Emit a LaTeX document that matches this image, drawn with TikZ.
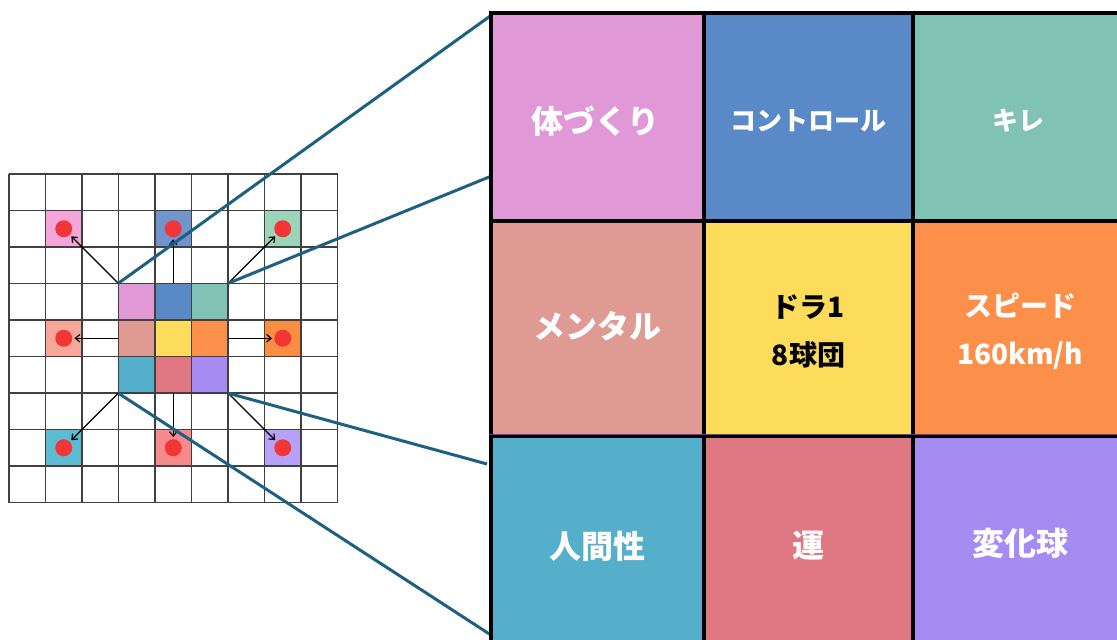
\documentclass[tikz,border=0pt]{standalone}
\usepackage{fontspec}
\newfontfamily\jp{Noto Sans CJK JP}
\usetikzlibrary{arrows.meta,calc}
\definecolor{cPink}{HTML}{E198D6}
\definecolor{cBlue}{HTML}{5A89C8}
\definecolor{cGreen}{HTML}{80C2B3}
\definecolor{cSalmon}{HTML}{E09A94}
\definecolor{cYellow}{HTML}{FDDC5B}
\definecolor{cOrange}{HTML}{FC904B}
\definecolor{cTeal}{HTML}{56AFCA}
\definecolor{cRed}{HTML}{DF7883}
\definecolor{cPurple}{HTML}{A68BF2}
\definecolor{oPink}{HTML}{F4A6DC}
\definecolor{oBlue}{HTML}{7094CC}
\definecolor{oGreen}{HTML}{9BD4B8}
\definecolor{oSalmon}{HTML}{F7A797}
\definecolor{oOrange}{HTML}{F98E40}
\definecolor{oTeal}{HTML}{5DBCD1}
\definecolor{oRed}{HTML}{F78A8A}
\definecolor{oPurple}{HTML}{B7A0F7}
\definecolor{dotred}{HTML}{F23535}
\definecolor{zblue}{HTML}{1D6082}
\definecolor{rowline}{HTML}{6A3CA8}
\begin{document}
\begin{tikzpicture}[x=1pt,y=-1pt,
  gridline/.style={draw=black!75,line width=1.1pt},
  ocell/.style={minimum size=36.5pt,inner sep=0pt,draw=none},
  dot/.style={circle,fill=dotred,minimum size=17pt,inner sep=0pt},
  arr/.style={-{Straight Barb[length=4.5pt,width=7.5pt]},line width=1.2pt,shorten >=2pt},
  zoomline/.style={draw=zblue,line width=3pt},
  bigcell/.style={draw=black,line width=3.5pt,inner sep=0pt},
  celltxt/.style={text=white,align=center,inner sep=0pt,font=\jp\bfseries\fontsize{32}{40}\selectfont},
  smalltxt/.style={font=\jp\bfseries\fontsize{26}{32}\selectfont},
  twoline/.style={font=\jp\bfseries\fontsize{28}{48}\selectfont},
]
\useasboundingbox (0,0) rectangle (1117,640);
\fill[white] (0,0) rectangle (1117,640);

% small overview grid
\begin{scope}[shift={(9pt,-174pt)},x=36.5pt,y=-36.5pt]
  \node[ocell,fill=oPink]   (onw) at (1.5,1.5) {};
  \node[ocell,fill=oBlue]   (on)  at (4.5,1.5) {};
  \node[ocell,fill=oGreen]  (one) at (7.5,1.5) {};
  \node[ocell,fill=oSalmon] (ow)  at (1.5,4.5) {};
  \node[ocell,fill=oOrange] (oe)  at (7.5,4.5) {};
  \node[ocell,fill=oTeal]   (osw) at (1.5,7.5) {};
  \node[ocell,fill=oRed]    (os)  at (4.5,7.5) {};
  \node[ocell,fill=oPurple] (ose) at (7.5,7.5) {};
  \fill[cPink]   (3,3) rectangle (4,4);
  \fill[cBlue]   (4,3) rectangle (5,4);
  \fill[cGreen]  (5,3) rectangle (6,4);
  \fill[cSalmon] (3,4) rectangle (4,5);
  \fill[cYellow] (4,4) rectangle (5,5);
  \fill[cOrange] (5,4) rectangle (6,5);
  \fill[cTeal]   (3,5) rectangle (4,6);
  \fill[cRed]    (4,5) rectangle (5,6);
  \fill[cPurple] (5,5) rectangle (6,6);
  \node[minimum size=109.5pt,inner sep=0pt] (core) at (4.5,4.5) {};
  \foreach \i in {0,...,9} {
    \draw[gridline] (\i,0) -- (\i,9);
    \draw[gridline] (0,\i) -- (9,\i);
  }
  \node[dot] (dnw) at (onw) {};
  \node[dot] (dn)  at (on)  {};
  \node[dot] (dne) at (one) {};
  \node[dot] (dw)  at (ow)  {};
  \node[dot] (de)  at (oe)  {};
  \node[dot] (dsw) at (osw) {};
  \node[dot] (ds)  at (os)  {};
  \node[dot] (dse) at (ose) {};
  \draw[arr] (core.north west) -- (dnw);
  \draw[arr] (core.north) -- (dn);
  \draw[arr] (core.north east) -- (dne);
  \draw[arr] (core.west) -- (dw);
  \draw[arr] (core.east) -- (de);
  \draw[arr] (core.south west) -- (dsw);
  \draw[arr] (core.south) -- (ds);
  \draw[arr] (core.south east) -- (dse);
\end{scope}

% zoom lines
\coordinate (zA) at (493,14);
\coordinate (zB) at (494,175);
\coordinate (zC) at (487,464);
\coordinate (zD) at (494,637);
\draw[zoomline] (core.north west) -- (zA);
\draw[zoomline] (core.north east) -- (zB);
\draw[zoomline] (core.south east) -- (zC);
\draw[zoomline] (core.south west) -- (zD);

% big grid
\node[bigcell,fill=cPink,minimum width=213pt,minimum height=208pt]   (b11) at (597.5,117) {};
\node[bigcell,fill=cBlue,minimum width=209pt,minimum height=208pt]   (b12) at (808.5,117) {};
\node[bigcell,fill=cGreen,minimum width=210pt,minimum height=208pt]  (b13) at (1018,117) {};
\node[bigcell,fill=cSalmon,minimum width=213pt,minimum height=215pt] (b21) at (597.5,328.5) {};
\node[bigcell,fill=cYellow,minimum width=209pt,minimum height=215pt] (b22) at (808.5,328.5) {};
\node[bigcell,fill=cOrange,minimum width=210pt,minimum height=215pt] (b23) at (1018,328.5) {};
\node[bigcell,fill=cTeal,minimum width=213pt,minimum height=212pt]   (b31) at (597.5,542) {};
\node[bigcell,fill=cRed,minimum width=209pt,minimum height=212pt]    (b32) at (808.5,542) {};
\node[bigcell,fill=cPurple,minimum width=210pt,minimum height=212pt] (b33) at (1018,542) {};
\draw[rowline,line width=1.5pt] (b31.north west) -- (b33.north east);

% labels
\node[celltxt] (t11) at ($(b11.center)+(-2,4)$) {体づくり};
\node[celltxt,smalltxt] (t12) at ($(b12.center)+(0,4)$) {コントロール};
\node[celltxt,smalltxt] (t13) at ($(b13.center)+(0,4)$) {キレ};
\node[celltxt] (t21) at ($(b21.center)+(0,-2)$) {メンタル};
\node[celltxt,twoline,text=black] (t22) at ($(b22.center)+(0,3)$) {ドラ1\\8球団};
\node[celltxt,twoline] (t23) at ($(b23.center)+(2,3)$) {スピード\\160km/h};
\node[celltxt] (t31) at ($(b31.center)+(0,4)$) {人間性};
\node[celltxt] (t32) at ($(b32.center)+(0,4)$) {運};
\node[celltxt] (t33) at ($(b33.center)+(2,1)$) {変化球};
\end{tikzpicture}
\end{document}
